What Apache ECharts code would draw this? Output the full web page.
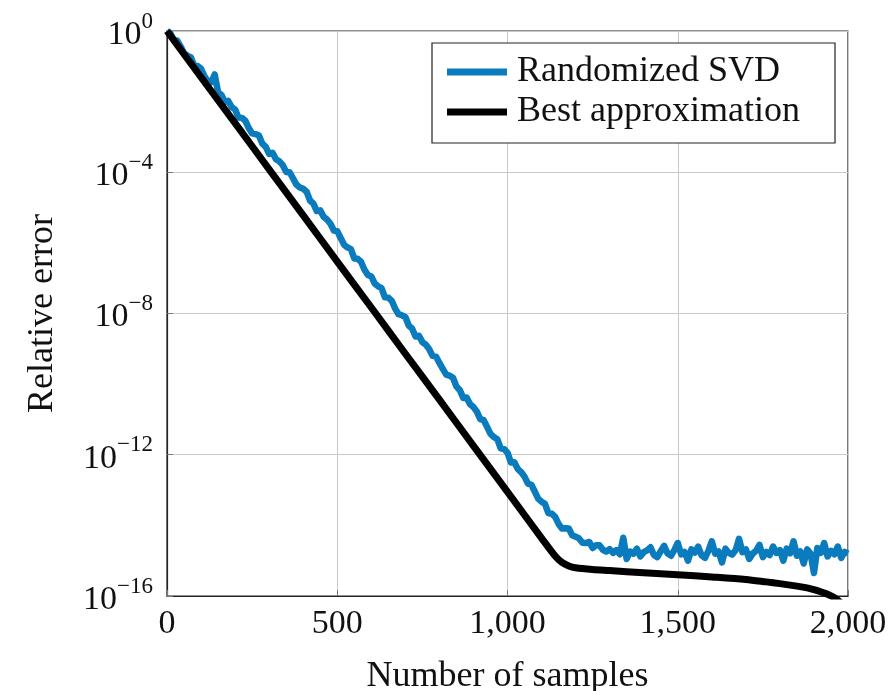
<!DOCTYPE html>
<html>
<head>
<meta charset="utf-8">
<script src="https://cdn.jsdelivr.net/npm/echarts@6/dist/echarts.min.js"></script>
<style>
html,body{margin:0;padding:0;background:#fff;}
#chart{width:892px;height:691px;}
</style>
</head>
<body>
<div id="chart"></div>
<script>
// ---- data ----
const seriesNames = ['Randomized SVD', 'Best approximation'];
const xTickLabels = ['0', '500', '1,000', '1,500', '2,000'];
const yTickExponents = [0, -4, -8, -12, -16];

// Randomized SVD: log10(relative error), one value every 10 samples (0..2000)
const randSvdStep = 10;
const randSvdLog10 = [
  0, -0.07, -0.26, -0.27, -0.44, -0.63, -0.70, -0.74, -0.98, -0.99,
  -1.07, -1.28, -1.43, -1.45, -1.23, -1.73, -1.81, -2.01, -1.98, -2.16,
  -2.22, -2.45, -2.46, -2.54, -2.75, -2.90, -2.92, -2.96, -3.19, -3.28,
  -3.48, -3.45, -3.63, -3.69, -3.80, -3.99, -4.00, -4.17, -4.35, -4.43,
  -4.47, -4.55, -4.80, -4.89, -5.10, -5.08, -5.26, -5.34, -5.46, -5.65,
  -5.67, -5.86, -6.05, -6.13, -6.18, -6.44, -6.45, -6.54, -6.76, -6.91,
  -6.95, -7.15, -7.23, -7.28, -7.54, -7.55, -7.64, -7.86, -8.02, -8.05,
  -8.10, -8.34, -8.43, -8.65, -8.63, -8.81, -8.88, -9.01, -9.20, -9.22,
  -9.40, -9.57, -9.73, -9.76, -9.82, -10.07, -10.17, -10.39, -10.38, -10.57,
  -10.65, -10.78, -10.99, -11.02, -11.21, -11.41, -11.50, -11.56, -11.82, -11.84,
  -11.94, -12.22, -12.21, -12.40, -12.49, -12.62, -12.82, -12.85, -13.04, -13.24,
  -13.33, -13.39, -13.65, -13.67, -13.76, -13.96, -14.09, -14.08, -14.09, -14.28,
  -14.32, -14.37, -14.49, -14.50, -14.47, -14.64, -14.56, -14.56, -14.69, -14.74,
  -14.67, -14.78, -14.70, -14.82, -14.35, -14.95, -14.74, -14.80, -14.66, -14.88,
  -14.76, -14.71, -14.62, -14.84, -14.90, -14.73, -14.58, -14.79, -14.86, -14.70,
  -14.50, -14.82, -14.75, -15.00, -14.68, -14.77, -14.60, -14.85, -14.92, -14.72,
  -14.45, -14.80, -14.74, -15.05, -14.66, -14.78, -14.83, -14.70, -14.38, -14.76,
  -14.68, -14.95, -14.80, -14.72, -14.55, -14.90, -14.75, -14.84, -14.60, -14.78,
  -14.70, -15.00, -14.66, -14.79, -14.45, -14.86, -14.74, -15.08, -14.68, -14.80,
  -15.35, -14.64, -14.78, -14.50, -14.88, -14.72, -14.82, -14.60, -14.92, -14.75,
  -14.80
];

// Best approximation: sample counts and log10(relative error)
const bestX = [0, 100, 200, 300, 400, 500, 600, 700, 800, 900, 1000, 1100, 1140, 1160, 1180, 1200, 1250, 1300, 1400, 1500, 1600, 1700, 1760, 1800, 1850, 1880, 1900, 1920, 1940, 1960, 1980];
const bestLog10 = [0, -1.31, -2.61, -3.92, -5.22, -6.53, -7.83, -9.14, -10.44, -11.75, -13.05, -14.36, -14.87, -15.05, -15.15, -15.20, -15.25, -15.28, -15.34, -15.40, -15.46, -15.53, -15.60, -15.65, -15.72, -15.77, -15.82, -15.88, -15.95, -16.05, -16.20];

// ---- build ----
const FONT = '"Liberation Serif", "DejaVu Serif", serif';
const TXT = '#111';
const randSvdData = randSvdLog10.map((e, i) => [i * randSvdStep, Math.pow(10, e)]);
const bestData = bestLog10.map((e, i) => [bestX[i], Math.pow(10, e)]);

const chart = echarts.init(document.getElementById('chart'), null, {renderer: 'canvas'});
chart.setOption({
  animation: false,
  backgroundColor: '#fff',
  grid: {left: 167, right: 44, top: 31, bottom: 95, show: true, borderColor: '#222', borderWidth: 1.2, outerBoundsMode: 'none'},
  legend: {
    data: seriesNames,
    orient: 'vertical',
    left: 432, top: 43,
    padding: [9, 20, 11, 15],
    itemGap: 0,
    itemWidth: 60, itemHeight: 7,
    icon: 'rect',
    backgroundColor: '#fff',
    borderColor: '#222', borderWidth: 1.2,
    textStyle: {fontFamily: FONT, fontSize: 36, color: TXT, width: 298, lineHeight: 40, padding: [0, 0, 0, 5]}
  },
  xAxis: {
    type: 'value', min: 0, max: 2000, interval: 500,
    name: 'Number of samples', nameLocation: 'middle', nameGap: 63,
    nameTextStyle: {fontFamily: FONT, fontSize: 36, color: TXT},
    axisLine: {show: true, lineStyle: {color: '#222', width: 1.2}},
    axisTick: {show: true, inside: true, length: 6, lineStyle: {color: '#777'}},
    axisLabel: {
      fontFamily: FONT, fontSize: 34, color: TXT, margin: 11,
      formatter: (v) => xTickLabels[Math.round(v / 500)]
    },
    splitLine: {show: true, lineStyle: {color: '#c9c9c9', width: 1}}
  },
  yAxis: {
    type: 'log', logBase: 10, min: 1e-16, max: 1, interval: 4,
    name: 'Relative error', nameLocation: 'middle', nameGap: 106, nameRotate: 90,
    nameTextStyle: {fontFamily: FONT, fontSize: 36, color: TXT},
    axisLine: {show: true, lineStyle: {color: '#222', width: 1.2}},
    axisTick: {show: true, inside: true, length: 6, lineStyle: {color: '#777'}},
    minorTick: {show: false},
    axisLabel: {
      margin: 14,
      formatter: (v) => {
        const e = Math.round(Math.log10(v));
        if (yTickExponents.indexOf(e) < 0) return '';
        const s = e < 0 ? '\u2212' + (-e) : String(e);
        return '{b|10}{s|' + s + '}';
      },
      rich: {
        b: {fontFamily: FONT, fontSize: 34, color: TXT, padding: [8, 0, 0, 0]},
        s: {fontFamily: FONT, fontSize: 23, color: TXT, verticalAlign: 'top'}
      }
    },
    splitLine: {show: true, lineStyle: {color: '#c9c9c9', width: 1}}
  },
  series: [
    {
      name: seriesNames[0], type: 'line', data: randSvdData,
      showSymbol: false, symbol: 'none', clip: true,
      lineStyle: {color: '#0a7bbd', width: 6.5, join: 'round'},
      itemStyle: {color: '#0a7bbd'}, z: 2
    },
    {
      name: seriesNames[1], type: 'line', data: bestData,
      showSymbol: false, symbol: 'none', clip: true, smooth: 0.3,
      lineStyle: {color: '#000', width: 7, join: 'round'},
      itemStyle: {color: '#000'}, z: 3
    }
  ]
});
</script>
</body>
</html>
